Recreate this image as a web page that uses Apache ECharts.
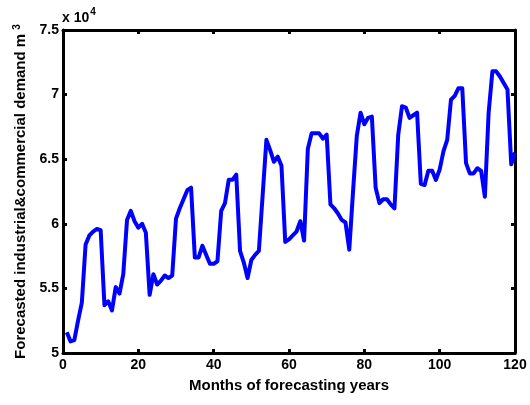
<!DOCTYPE html>
<html>
<head>
<meta charset="utf-8">
<script src="https://cdn.jsdelivr.net/npm/echarts@6/dist/echarts.min.js"></script>
<style>html,body{margin:0;padding:0;background:#fff}#c{width:530px;height:405px}</style>
</head>
<body>
<div id="c"></div>
<script>
// Forecasted demand (m^3), months 1..120
const demand = [
  51600, 50900, 51000, 52500, 53900, 58400, 59100, 59400, 59600, 59500,
  53700, 54000, 53300, 55100, 54600, 56100, 60300, 61000, 60200, 59700,
  60000, 59300, 54500, 56100, 55300, 55600, 56000, 55800, 56000, 60400,
  61200, 61900, 62600, 62800, 57400, 57400, 58300, 57600, 56900, 56900,
  57100, 61000, 61600, 63400, 63400, 63800, 57900, 57000, 55800, 57200,
  57600, 57900, 62200, 66500, 65700, 64800, 65200, 64500, 58600, 58800,
  59100, 59400, 60200, 58700, 65800, 67000, 67000, 67000, 66600, 66900,
  61500, 61200, 60800, 60300, 60100, 58000, 62500, 66800, 68600, 67700,
  68200, 68300, 62800, 61600, 61900, 61900, 61500, 61200, 66900, 69100,
  69000, 68200, 68400, 68600, 63100, 63000, 64100, 64100, 63400, 64200,
  65600, 66500, 69600, 69900, 70500, 70500, 64700, 63900, 63900, 64300,
  64100, 62100, 68600, 71800, 71800, 71400, 70900, 70400, 64600, 65500
];
const xTicks = [0, 20, 40, 60, 80, 100, 120];
const yTicks = [50000, 55000, 60000, 65000, 70000, 75000];
const xTitle = 'Months of forecasting years';
const yTitle = 'Forecasted industrial&commercial demand m';
const yTitleSup = '3';
const scaleText = 'x 10';
const scaleSup = '4';

const font = 'Liberation Sans, Arial, sans-serif';
const chart = echarts.init(document.getElementById('c'), null, {renderer: 'canvas'});
const pts = demand.map((v, i) => [i + 1, v]);
const axisCommon = {
  axisLine: {show: true, onZero: false, lineStyle: {color: '#000', width: 3}},
  axisTick: {show: true, inside: true, length: 4, lineStyle: {color: '#000', width: 3}},
  splitLine: {show: false}
};
chart.setOption({
  animation: false,
  backgroundColor: '#fff',
  grid: {left: 63, right: 15, top: 30, bottom: 52, show: false},
  xAxis: [
    Object.assign({}, axisCommon, {
      type: 'value', position: 'bottom', min: xTicks[0], max: xTicks[xTicks.length - 1], interval: 20,
      axisLabel: {color: '#000', fontFamily: font, fontWeight: 'bold', fontSize: 14, margin: 5},
      name: xTitle, nameLocation: 'middle', nameGap: 25,
      nameTextStyle: {color: '#000', fontFamily: font, fontWeight: 'bold', fontSize: 15}
    }),
    Object.assign({}, axisCommon, {
      type: 'value', position: 'top', min: xTicks[0], max: xTicks[xTicks.length - 1], interval: 20,
      axisLabel: {show: false}
    })
  ],
  yAxis: [
    Object.assign({}, axisCommon, {
      type: 'value', position: 'left', min: yTicks[0], max: yTicks[yTicks.length - 1], interval: 5000,
      axisLabel: {color: '#000', fontFamily: font, fontWeight: 'bold', fontSize: 14, margin: 4,
        formatter: v => String(v / 10000)},
      name: '{a|' + yTitle + ' }{s|' + yTitleSup + '}', nameLocation: 'middle', nameGap: 30,
      nameTextStyle: {
        rich: {
          a: {color: '#000', fontFamily: font, fontWeight: 'bold', fontSize: 15},
          s: {color: '#000', fontFamily: font, fontWeight: 'bold', fontSize: 10, verticalAlign: 'top', padding: [0, 0, 7, 0]}
        }
      }
    }),
    Object.assign({}, axisCommon, {
      type: 'value', position: 'right', min: yTicks[0], max: yTicks[yTicks.length - 1], interval: 5000,
      axisLabel: {show: false}
    })
  ],
  graphic: [{
    type: 'text', left: 62, top: 7,
    style: {
      text: '{a|' + scaleText + '}{s|' + scaleSup + '}',
      rich: {
        a: {fill: '#000', fontFamily: font, fontWeight: 'bold', fontSize: 14, padding: [4, 0, 0, 0]},
        s: {fill: '#000', fontFamily: font, fontWeight: 'bold', fontSize: 10, verticalAlign: 'top', padding: [0, 0, 8, 1]}
      }
    }
  }],
  series: [{
    type: 'line', xAxisIndex: 0, yAxisIndex: 0, data: pts,
    showSymbol: false, symbol: 'none',
    lineStyle: {color: '#0000ff', width: 4, join: 'round'},
    itemStyle: {color: '#0000ff'}
  }]
});
</script>
</body>
</html>
